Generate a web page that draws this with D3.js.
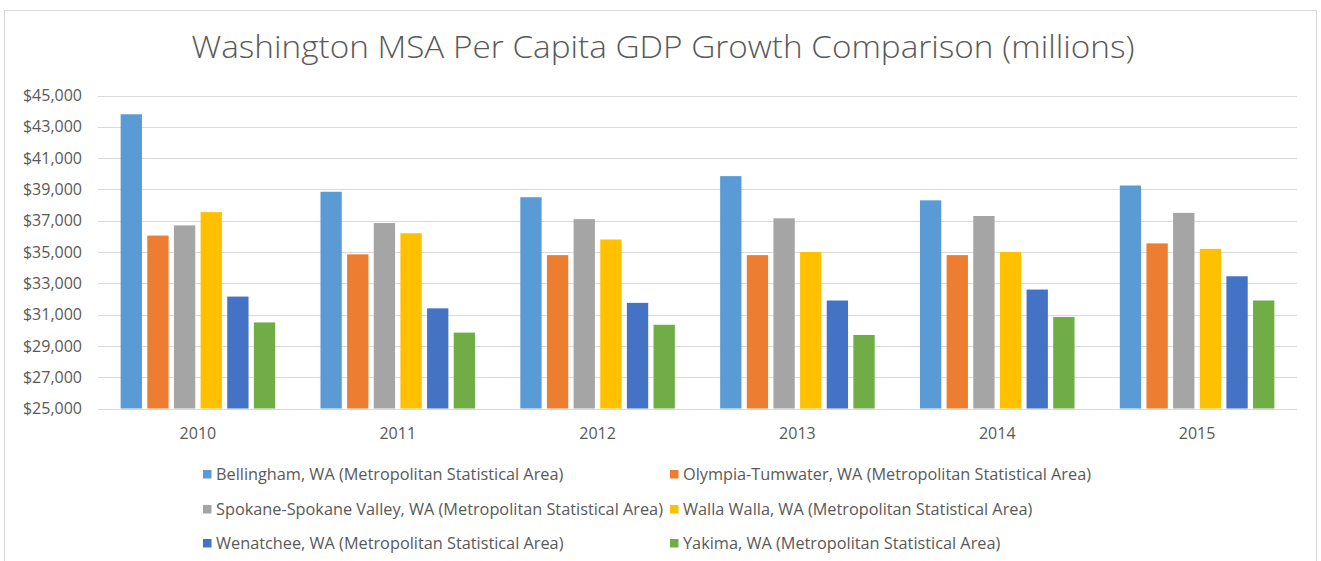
<!DOCTYPE html>
<html>
<head>
<meta charset="utf-8">
<script src="https://cdn.jsdelivr.net/npm/d3@7"></script>
<style>
  html, body { margin: 0; padding: 0; background: #ffffff; }
  svg { display: block; }
  text { font-family: "Open Sans", "DejaVu Sans", sans-serif; fill: #595959; }
</style>
</head>
<body>
<svg id="chart" width="1321" height="561"></svg>
<script>
// Per capita GDP by Washington metropolitan area, 2010–2015
const years = ["2010", "2011", "2012", "2013", "2014", "2015"];
const seriesNames = [
  "Bellingham, WA (Metropolitan Statistical Area)",
  "Olympia-Tumwater, WA (Metropolitan Statistical Area)",
  "Spokane-Spokane Valley, WA (Metropolitan Statistical Area)",
  "Walla Walla, WA (Metropolitan Statistical Area)",
  "Wenatchee, WA (Metropolitan Statistical Area)",
  "Yakima, WA (Metropolitan Statistical Area)"
];
const bellingham = [43800, 38850, 38500, 39850, 38300, 39250];
const olympia    = [36050, 34850, 34800, 34800, 34800, 35550];
const spokane    = [36700, 36850, 37100, 37150, 37300, 37500];
const wallaWalla = [37550, 36200, 35800, 35000, 35000, 35200];
const wenatchee  = [32150, 31400, 31750, 31900, 32600, 33450];
const yakima     = [30500, 29850, 30350, 29700, 30850, 31900];
const yTicks = [25000, 27000, 29000, 31000, 33000, 35000, 37000, 39000, 41000, 43000, 45000];
const colors = ["#5B9BD5", "#ED7D31", "#A5A5A5", "#FFC000", "#4472C4", "#70AD47"];

const seriesValues = [bellingham, olympia, spokane, wallaWalla, wenatchee, yakima];

const svg = d3.select("#chart");

// chart frame
svg.append("rect")
  .attr("x", 4.5).attr("y", 10.5)
  .attr("width", 1312).attr("height", 560)
  .attr("fill", "#ffffff")
  .attr("stroke", "#d9d9d9");

// title
svg.append("text")
  .attr("x", 663).attr("y", 58)
  .attr("text-anchor", "middle")
  .attr("textLength", 943)
  .attr("lengthAdjust", "spacingAndGlyphs")
  .style("font-size", "31px")
  .style("font-weight", 300)
  .text("Washington MSA Per Capita GDP Growth Comparison (millions)");

const plot = { left: 98, right: 1297, top: 95.5, bottom: 408.5 };

const y = d3.scaleLinear()
  .domain([25000, 45000])
  .range([plot.bottom, plot.top]);

const x0 = d3.scaleBand()
  .domain(years)
  .range([plot.left, plot.right])
  .paddingInner(0.2)
  .paddingOuter(0.1);

const x1 = d3.scaleBand()
  .domain(d3.range(seriesNames.length))
  .range([0, x0.bandwidth()])
  .paddingInner(0.2)
  .paddingOuter(0.1);

// horizontal gridlines
svg.append("g")
  .selectAll("line")
  .data(yTicks)
  .join("line")
  .attr("x1", plot.left).attr("x2", plot.right)
  .attr("y1", d => Math.round(y(d)) + 0.5)
  .attr("y2", d => Math.round(y(d)) + 0.5)
  .attr("stroke", "#d9d9d9")
  .attr("stroke-width", 1);

// y axis labels
const yAxis = d3.axisLeft(y)
  .tickValues(yTicks)
  .tickSize(0)
  .tickPadding(0)
  .tickFormat(d => "$" + d3.format(",")(d));

const gy = svg.append("g")
  .attr("transform", `translate(82,0)`)
  .call(yAxis);
gy.select(".domain").remove();
gy.selectAll("text")
  .style("font-size", "16px")
  .style("fill", "#595959")
  .style("font-family", "\"Open Sans\", sans-serif");

// bars
const groups = svg.append("g")
  .selectAll("g")
  .data(years)
  .join("g")
  .attr("transform", d => `translate(${x0(d)},0)`);

groups.selectAll("rect")
  .data((yr, i) => seriesValues.map((vals, s) => ({ s, v: vals[i] })))
  .join("rect")
  .attr("x", d => x1(d.s))
  .attr("width", x1.bandwidth())
  .attr("y", d => y(d.v))
  .attr("height", d => y(25000) - y(d.v))
  .attr("fill", d => colors[d.s]);

// x axis labels
const xAxis = d3.axisBottom(x0).tickSize(0).tickPadding(0);
const gx = svg.append("g")
  .attr("transform", `translate(0,428)`)
  .call(xAxis);
gx.select(".domain").remove();
gx.selectAll("text")
  .attr("dy", "0.71em")
  .style("font-size", "16px")
  .style("fill", "#595959")
  .style("font-family", "\"Open Sans\", sans-serif");

// legend: two columns, three rows
const legendCols = [203, 670];
const legendRows = [480, 515, 549];
const legend = svg.append("g")
  .selectAll("g")
  .data(seriesNames)
  .join("g")
  .attr("transform", (d, i) => `translate(${legendCols[i % 2]},${legendRows[Math.floor(i / 2)]})`);

legend.append("rect")
  .attr("x", 0).attr("y", -10)
  .attr("width", 8.5).attr("height", 8.5)
  .attr("fill", (d, i) => colors[i]);

legend.append("text")
  .attr("x", 13).attr("y", 0)
  .style("font-size", "16.3px")
  .text(d => d);
</script>
</body>
</html>
